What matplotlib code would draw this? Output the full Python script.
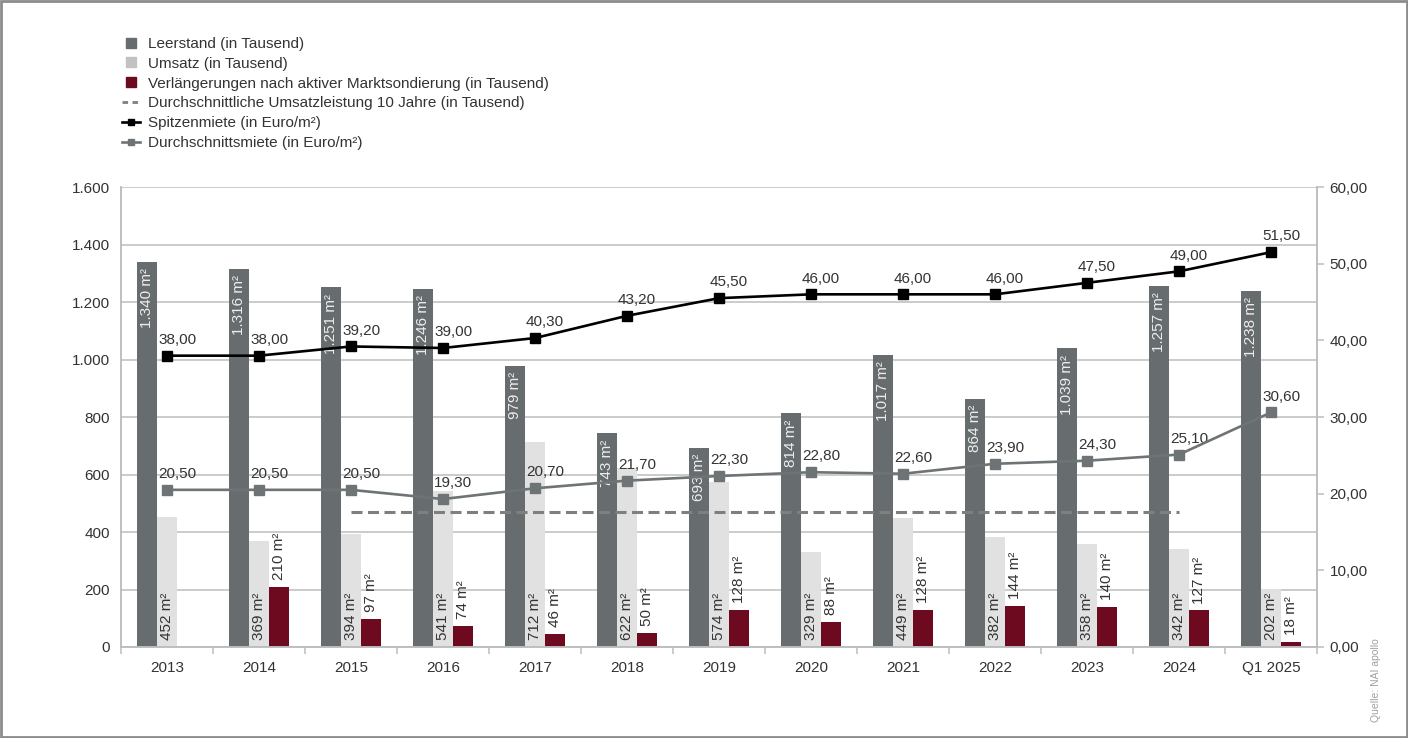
import numpy as np
import matplotlib
matplotlib.use("Agg")
import matplotlib.pyplot as plt
from matplotlib.lines import Line2D
from matplotlib.patches import Rectangle

plt.rcParams['font.family'] = ['Liberation Sans', 'DejaVu Sans']

jahre = ['2013', '2014', '2015', '2016', '2017', '2018', '2019', '2020',
         '2021', '2022', '2023', '2024', 'Q1 2025']
leerstand = [1340, 1316, 1251, 1246, 979, 743, 693, 814, 1017, 864, 1039, 1257, 1238]
umsatz = [452, 369, 394, 541, 712, 622, 574, 329, 449, 382, 358, 342, 202]
verlaengerungen = [None, 210, 97, 74, 46, 50, 128, 88, 128, 144, 140, 127, 18]
spitzenmiete = [38.00, 38.00, 39.20, 39.00, 40.30, 43.20, 45.50, 46.00, 46.00,
                46.00, 47.50, 49.00, 51.50]
durchschnittsmiete = [20.50, 20.50, 20.50, 19.30, 20.70, 21.70, 22.30, 22.80,
                      22.60, 23.90, 24.30, 25.10, 30.60]
# Durchschnitt Umsatz 2015-2024
umsatz_schnitt = sum(umsatz[2:12]) / 10

def de(v, dec=0):
    s = f"{v:,.{dec}f}"
    return s.replace(",", "X").replace(".", ",").replace("X", ".")

c_leer = '#676c6f'
c_ums = '#e1e1e1'
c_verl = '#6e0a20'
c_text = '#333333'
c_grid = '#bdbdbd'

fig = plt.figure(figsize=(14.08, 7.38), dpi=100)
ax = fig.add_axes([121 / 1408, 1 - 647 / 738, (1317 - 121) / 1408, (647 - 187) / 738])
ax2 = ax.twinx()

x = np.arange(len(jahre))
w = 0.22

ax.bar(x - w, leerstand, w, color=c_leer, zorder=2)
ax.bar(x, umsatz, w, color=c_ums, zorder=2)
verl = [0 if v is None else v for v in verlaengerungen]
ax.bar(x + w, verl, w, color=c_verl, zorder=2)

# Durchschnittliche Umsatzleistung (2015 bis 2024)
ax.plot([x[2], x[11]], [umsatz_schnitt, umsatz_schnitt], color='#7f7f7f',
        lw=2.2, dashes=(3.6, 1.8), zorder=3)

for i in range(len(jahre)):
    ax.annotate(de(leerstand[i]) + " m²", (x[i] - w, leerstand[i]),
                xytext=(0, -4.5), textcoords='offset points', rotation=90,
                ha='center', va='top', color='#eeeeee', fontsize=11, zorder=4)
    ax.annotate(de(umsatz[i]) + " m²", (x[i], 0),
                xytext=(0, 5), textcoords='offset points', rotation=90,
                ha='center', va='bottom', color=c_text, fontsize=11, zorder=4)
    if verlaengerungen[i] is not None:
        ax.annotate(de(verlaengerungen[i]) + " m²", (x[i] + w, verlaengerungen[i]),
                    xytext=(0, 5), textcoords='offset points', rotation=90,
                    ha='center', va='bottom', color=c_text, fontsize=11, zorder=4)

ax2.plot(x, spitzenmiete, color='black', lw=1.9, marker='s', ms=6.5, zorder=5)
ax2.plot(x, durchschnittsmiete, color='#6e7376', lw=1.9, marker='s', ms=6.5, zorder=5)
for i in range(len(jahre)):
    ax2.annotate(de(spitzenmiete[i], 2), (x[i], spitzenmiete[i]),
                 xytext=(-6.5, 8.5), textcoords='offset points',
                 ha='left', va='baseline', color=c_text, fontsize=11)
    ax2.annotate(de(durchschnittsmiete[i], 2), (x[i], durchschnittsmiete[i]),
                 xytext=(-6.5, 8.5), textcoords='offset points',
                 ha='left', va='baseline', color=c_text, fontsize=11)

ax.set_xlim(-0.5, len(jahre) - 0.5)
ax.set_ylim(0, 1600)
ax.set_yticks(np.arange(0, 1601, 200))
ax.set_yticklabels([de(v) for v in np.arange(0, 1601, 200)])
ax.yaxis.grid(True, color=c_grid, lw=1.1, zorder=0)
ax.set_axisbelow(True)
ax.tick_params(axis='y', length=0, pad=8, labelsize=11, labelcolor=c_text)

ax.set_xticks(x)
ax.set_xticklabels(jahre)
ax.set_xticks(np.arange(-0.5, len(jahre)), minor=True)
ax.tick_params(axis='x', which='major', length=0, pad=10, labelsize=11, labelcolor=c_text)
ax.tick_params(axis='x', which='minor', length=5, color=c_grid, width=1.1)

ax2.set_ylim(0, 60)
ax2.set_yticks(np.arange(0, 61, 10))
ax2.set_yticklabels([de(v, 2) for v in np.arange(0, 61, 10)])
ax2.tick_params(axis='y', length=5, color=c_grid, width=1.1, pad=4,
                labelsize=11, labelcolor=c_text)

for a in (ax, ax2):
    for s in a.spines.values():
        s.set_color(c_grid)
        s.set_linewidth(1.1)
    a.spines['top'].set_visible(False)

handles = [
    Line2D([], [], ls='none', marker='s', ms=6.5, color=c_leer),
    Line2D([], [], ls='none', marker='s', ms=6.5, color='#c2c2c2'),
    Line2D([], [], ls='none', marker='s', ms=6.5, color=c_verl),
    Line2D([], [], color='#7f7f7f', lw=2, dashes=(2, 1.6)),
    Line2D([], [], color='black', lw=1.9, marker='s', ms=4.5),
    Line2D([], [], color='#6e7376', lw=1.9, marker='s', ms=4.5),
]
labels = [
    'Leerstand (in Tausend)',
    'Umsatz (in Tausend)',
    'Verlängerungen nach aktiver Marktsondierung (in Tausend)',
    'Durchschnittliche Umsatzleistung 10 Jahre (in Tausend)',
    'Spitzenmiete (in Euro/m²)',
    'Durchschnittsmiete (in Euro/m²)',
]
leg = fig.legend(handles, labels, loc='upper left',
                 bbox_to_anchor=(122 / 1408, 1 - 37 / 738), frameon=False,
                 fontsize=11, handlelength=1.2, handletextpad=0.5,
                 labelspacing=0.38, borderpad=0, borderaxespad=0)
for t in leg.get_texts():
    t.set_color(c_text)

fig.text(1376 / 1408, 1 - 722 / 738, 'Quelle: NAI apollo', rotation=90,
         ha='center', va='bottom', fontsize=7.5, color='#a0a0a0')

fig.patches.append(Rectangle((0.001, 0.001), 0.998, 0.997, transform=fig.transFigure,
                             fill=False, edgecolor='#8c8c8c', lw=2))

fig.savefig('out.png', dpi=100)
